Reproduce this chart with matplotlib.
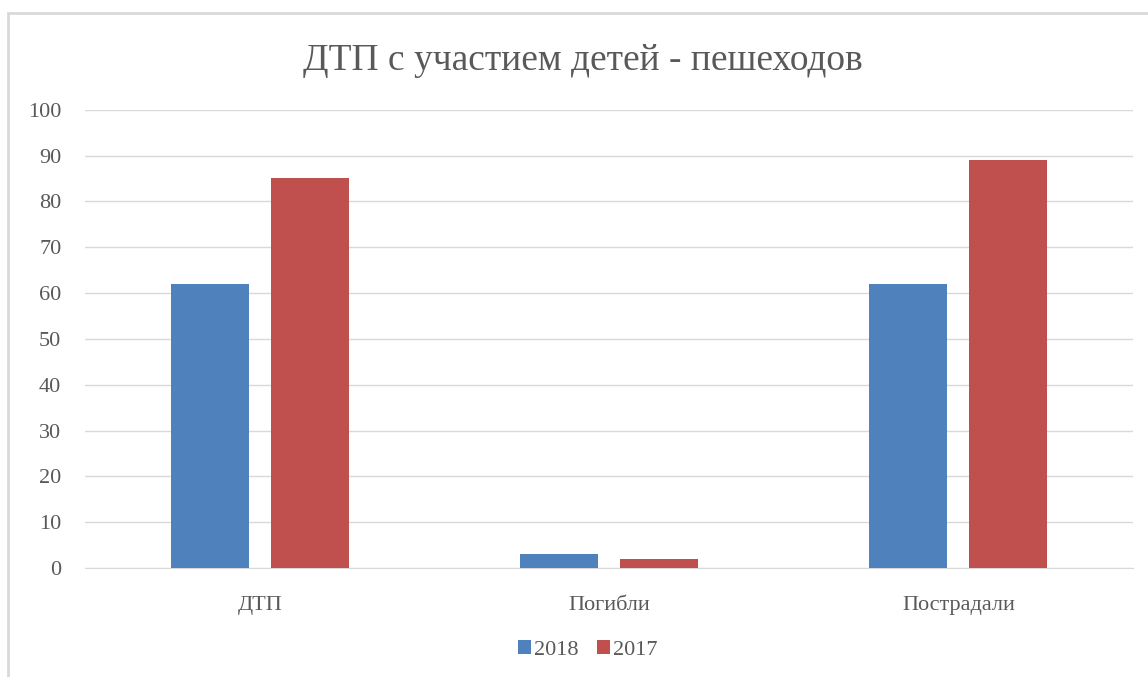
import numpy as np
import matplotlib.pyplot as plt
from matplotlib.patches import Rectangle

# Данные
categories = ['ДТП', 'Погибли', 'Пострадали']
series_names = ['2018', '2017']
values_2018 = [62, 3, 62]
values_2017 = [85, 2, 89]
colors = ['#4f81bd', '#c0504d']

plt.rcParams['font.family'] = ['Liberation Serif', 'DejaVu Serif']

fig = plt.figure(figsize=(11.48, 6.77), dpi=100)
ax = fig.add_axes([0.074, 0.161, 0.913, 0.677])

# Рамка диаграммы
fig.patches.append(Rectangle((8 / 1148, -0.05), 1.2, 1 - 13 / 677 + 0.05,
                             transform=fig.transFigure, fill=False,
                             edgecolor='#d9d9d9', linewidth=2))

x = np.arange(len(categories))
width = 0.223
ax.bar(x - 0.143, values_2018, width, color=colors[0], label=series_names[0], zorder=3)
ax.bar(x + 0.143, values_2017, width, color=colors[1], label=series_names[1], zorder=3)

ax.set_xlim(-0.5, 2.5)
ax.set_ylim(0, 100)
ax.set_yticks(range(0, 101, 10))
ax.set_xticks(x)
ax.set_xticklabels(categories)
ax.tick_params(axis='both', length=0, labelsize=16, colors='#595959')
ax.tick_params(axis='x', pad=20)
ax.tick_params(axis='y', pad=17)
ax.grid(axis='y', color='#d9d9d9', linewidth=1, zorder=0)
for s in ['top', 'right', 'left']:
    ax.spines[s].set_visible(False)
ax.spines['bottom'].set_color('#d9d9d9')

fig.text(0.508, 0.91, 'ДТП с участием детей - пешеходов', ha='center', va='center',
         fontsize=27, color='#595959')

fig.legend(loc='center', bbox_to_anchor=(0.512, 0.04), ncol=2, frameon=False,
           fontsize=16, handlelength=0.6, handleheight=0.6, handletextpad=0.15,
           columnspacing=0.8, labelcolor='#595959')

fig.savefig('out.png', dpi=100)
